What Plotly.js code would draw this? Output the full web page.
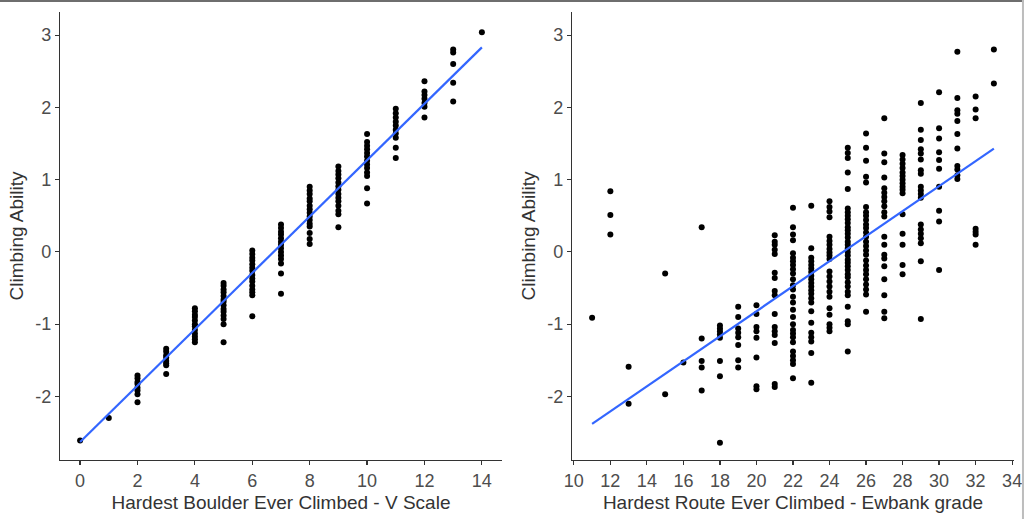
<!DOCTYPE html>
<html>
<head>
<meta charset="utf-8">
<script src="https://cdn.plot.ly/plotly-3.0.1.min.js"></script>
<style>
  html, body { margin: 0; padding: 0; background: #ffffff; }
  #grafica { width: 1024px; height: 519px; }
</style>
</head>
<body>
<div id="grafica"></div>
<script>
// Panel 1: boulder grade (V scale) vs climbing ability
var boulderGrades = [0, 1, 2, 3, 4, 5, 6, 7, 8, 9, 10, 11, 12, 13, 14];
var boulderAbility = [
    [-2.61],
    [-2.30],
    [-1.71, -1.75, -1.80, -1.83, -1.88, -1.92, -1.97, -2.08],
    [-1.34, -1.38, -1.43, -1.46, -1.51, -1.54, -1.57, -1.69],
    [-0.78, -0.82, -0.87, -0.90, -0.95, -1.00, -1.03, -1.08, -1.13, -1.17, -1.21, -1.25],
    [-0.43, -0.47, -0.52, -0.56, -0.61, -0.66, -0.69, -0.74, -0.79, -0.83, -0.88, -0.93, -1.00, -1.25],
    [0.02, -0.03, -0.08, -0.12, -0.17, -0.22, -0.26, -0.32, -0.37, -0.41, -0.47, -0.52, -0.56, -0.60, -0.89],
    [0.38, 0.33, 0.28, 0.24, 0.19, 0.14, 0.10, 0.05, 0.00, -0.05, -0.10, -0.16, -0.30, -0.58],
    [0.90, 0.85, 0.80, 0.74, 0.70, 0.64, 0.59, 0.54, 0.49, 0.44, 0.39, 0.35, 0.26, 0.18, 0.11],
    [1.18, 1.12, 1.07, 1.02, 0.96, 0.91, 0.86, 0.80, 0.75, 0.70, 0.64, 0.57, 0.52, 0.34],
    [1.63, 1.52, 1.47, 1.42, 1.37, 1.32, 1.26, 1.21, 1.16, 1.10, 1.05, 0.88, 0.67],
    [1.98, 1.92, 1.86, 1.80, 1.75, 1.69, 1.64, 1.58, 1.44, 1.30],
    [2.36, 2.22, 2.17, 2.12, 2.06, 2.01, 1.86],
    [2.80, 2.76, 2.60, 2.34, 2.08],
    [3.04]
];
var boulderFitX = [0, 14];
var boulderFitY = [-2.63, 2.83];

// Panel 2: route grade (Ewbank) vs climbing ability
var routeGrades = [11, 12, 13, 15, 16, 17, 18, 19, 20, 21, 22, 23, 24, 25, 26, 27, 28, 29, 30, 31, 32, 33];
var routeAbility = [
    [-0.91],
    [0.84, 0.51, 0.24],
    [-1.59, -2.10],
    [-0.30, -1.97],
    [-1.53],
    [0.34, -1.20, -1.51, -1.60, -1.92],
    [-1.02, -1.06, -1.10, -1.14, -1.19, -1.51, -1.72, -2.64],
    [-0.76, -0.90, -1.06, -1.12, -1.18, -1.29, -1.50, -1.60],
    [-0.74, -0.86, -1.04, -1.10, -1.19, -1.46, -1.86, -1.90],
    [0.23, 0.14, 0.10, 0.03, -0.03, -0.29, -0.36, -0.54, -0.60, -0.86, -1.04, -1.10, -1.15, -1.26, -1.83, -1.87],
    [0.61, 0.34, 0.24, 0.16, -0.02, -0.08, -0.13, -0.18, -0.24, -0.30, -0.38, -0.46, -0.52, -0.62, -0.70, -0.80,
     -0.90, -1.00, -1.08, -1.13, -1.18, -1.25, -1.38, -1.44, -1.50, -1.55, -1.75],
    [0.64, 0.05, -0.08, -0.13, -0.18, -0.23, -0.28, -0.33, -0.38, -0.43, -0.48, -0.53, -0.58, -0.64, -0.70, -0.82,
     -0.98, -1.12, -1.18, -1.24, -1.40, -1.81],
    [0.70, 0.62, 0.56, 0.48, 0.21, 0.15, 0.10, 0.04, -0.01, -0.05, -0.10, -0.27, -0.34, -0.41, -0.48, -0.55,
     -0.62, -0.78, -0.87, -1.00, -1.05, -1.10],
    [1.44, 1.37, 1.30, 1.10, 0.87, 0.60, 0.55, 0.50, 0.45, 0.40, 0.34, 0.30, 0.25, 0.20, 0.14, 0.10, 0.05, 0.00,
     -0.05, -0.11, -0.15, -0.20, -0.25, -0.31, -0.35, -0.42, -0.48, -0.55, -0.60, -0.76, -0.96, -1.00, -1.38],
    [1.64, 1.44, 1.26, 1.04, 0.96, 0.62, 0.55, 0.50, 0.44, 0.38, 0.33, 0.27, 0.21, 0.14, 0.08, 0.02, -0.04,
     -0.12, -0.19, -0.25, -0.31, -0.38, -0.45, -0.52, -0.59, -0.83],
    [1.85, 1.36, 1.24, 1.03, 0.88, 0.82, 0.76, 0.70, 0.63, 0.55, 0.49, 0.21, 0.10, -0.04, -0.09, -0.20, -0.38,
     -0.60, -0.83, -0.92],
    [1.34, 1.28, 1.22, 1.16, 1.10, 1.05, 1.00, 0.95, 0.90, 0.86, 0.81, 0.52, 0.25, 0.10, -0.18, -0.31],
    [2.06, 1.69, 1.55, 1.42, 1.36, 1.28, 1.13, 1.08, 0.90, 0.85, 0.80, 0.75, 0.38, 0.31, 0.25, 0.19, 0.12, -0.13, -0.93],
    [2.21, 1.71, 1.57, 1.38, 1.27, 1.15, 0.90, 0.57, 0.42, -0.25],
    [2.77, 2.13, 1.96, 1.91, 1.81, 1.63, 1.43, 1.19, 1.14, 1.06, 1.01],
    [2.15, 1.97, 1.85, 0.32, 0.28, 0.24, 0.10],
    [2.80, 2.33]
];
var routeFitX = [11, 33];
var routeFitY = [-2.38, 1.43];

// tick labels (plain hyphen for negatives, as in the original)
var abilityTicks = [-2, -1, 0, 1, 2, 3];
var abilityTickText = ['-2', '-1', '0', '1', '2', '3'];

var xTitle1 = 'Hardest Boulder Ever Climbed - V Scale';
var xTitle2 = 'Hardest Route Ever Climbed - Ewbank grade';
var yTitle = 'Climbing Ability';

// flatten grade columns into x / y pairs
function aplanar(grados, valores) {
    var xs = [], ys = [];
    grados.forEach(function (g, i) {
        valores[i].forEach(function (v) {
            xs.push(g);
            ys.push(v);
        });
    });
    return { x: xs, y: ys };
}

function graficar() {
    var p1 = aplanar(boulderGrades, boulderAbility);
    var p2 = aplanar(routeGrades, routeAbility);

    var puntos = { size: 6, color: '#000000' };
    var linea = { color: '#3366FF', width: 2.2 };

    var data = [
        { x: p1.x, y: p1.y, type: 'scatter', mode: 'markers', marker: puntos, xaxis: 'x', yaxis: 'y', hoverinfo: 'x+y' },
        { x: boulderFitX, y: boulderFitY, type: 'scatter', mode: 'lines', line: linea, xaxis: 'x', yaxis: 'y' },
        { x: p2.x, y: p2.y, type: 'scatter', mode: 'markers', marker: puntos, xaxis: 'x2', yaxis: 'y2', hoverinfo: 'x+y' },
        { x: routeFitX, y: routeFitY, type: 'scatter', mode: 'lines', line: linea, xaxis: 'x2', yaxis: 'y2' }
    ];

    var tickFont = { family: 'Liberation Sans, Arial, sans-serif', size: 18, color: '#4D4D4D' };
    var titleFont = { family: 'Liberation Sans, Arial, sans-serif', size: 19, color: '#333333' };

    function ejeX(dominio, rango, inicio, titulo) {
        return {
            domain: dominio, range: rango, tick0: inicio, dtick: 2,
            showgrid: false, zeroline: false, showline: true,
            linecolor: '#333333', linewidth: 1.2,
            ticks: 'outside', ticklen: 4, tickcolor: '#333333', tickwidth: 1.2,
            tickfont: tickFont,
            title: { text: titulo, font: titleFont, standoff: 6 }
        };
    }
    function ejeY(anclaje) {
        return {
            anchor: anclaje, domain: [0.1137, 0.9769], range: [-2.88, 3.32],
            tickmode: 'array', tickvals: abilityTicks, ticktext: abilityTickText,
            showgrid: false, zeroline: false, showline: true,
            linecolor: '#333333', linewidth: 1.2,
            ticks: 'outside', ticklen: 4, tickcolor: '#333333', tickwidth: 1.2,
            tickfont: tickFont,
            title: { text: yTitle, font: titleFont, standoff: 6 }
        };
    }

    var layout = {
        width: 1024,
        height: 519,
        margin: { t: 0, b: 0, l: 0, r: 0 },
        paper_bgcolor: '#FFFFFF',
        plot_bgcolor: '#FFFFFF',
        showlegend: false,
        xaxis: ejeX([0.0586, 0.4902], [-0.7, 14.7], 0, xTitle1),
        yaxis: ejeY('x'),
        xaxis2: ejeX([0.5586, 0.9902], [9.9, 34.1], 10, xTitle2),
        yaxis2: ejeY('x2'),
        shapes: [
            { type: 'line', xref: 'paper', yref: 'paper', x0: 0, x1: 1, y0: 0.998, y1: 0.998,
              line: { color: '#6E6E6E', width: 2 } },
            { type: 'line', xref: 'paper', yref: 'paper', x0: 0.999, x1: 0.999, y0: 0, y1: 1,
              line: { color: '#BDBDBD', width: 2 } }
        ]
    };

    Plotly.newPlot('grafica', data, layout, { displayModeBar: false, staticPlot: true });
}

graficar();
</script>
</body>
</html>
